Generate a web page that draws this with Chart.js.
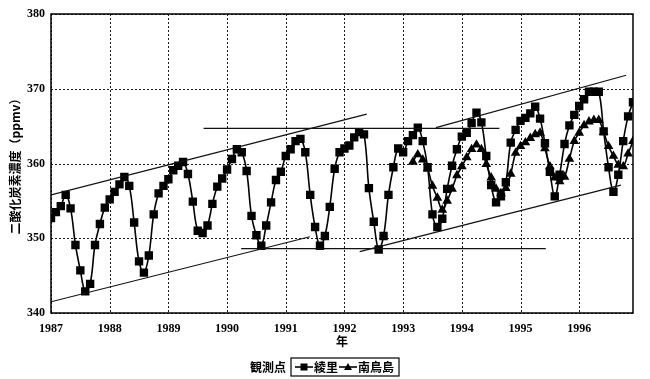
<!DOCTYPE html>
<html>
<head>
<meta charset="utf-8">
<script src="https://cdn.jsdelivr.net/npm/chart.js@4.4.0/dist/chart.umd.min.js"></script>
<style>
  html, body { margin: 0; padding: 0; background: #fff; }
</style>
</head>
<body>
<canvas id="co2" width="650" height="379"></canvas>
<script>
// Monthly CO2 concentration (ppmv), Ryori, Jan 1987 - Dec 1996
var ryori = [
  352.7, 353.5, 354.3, 355.8, 354.0, 349.1, 345.7, 342.9, 343.9, 349.1, 351.9, 354.1, // 1987
  355.2, 356.2, 357.2, 358.2, 357.0, 352.1, 346.9, 345.4, 347.7, 353.2, 356.0, 357.0, // 1988
  357.9, 359.1, 359.7, 360.2, 358.6, 354.9, 351.0, 350.7, 351.7, 354.6, 356.9, 358.0, // 1989
  359.2, 360.6, 361.9, 361.5, 359.0, 353.0, 350.4, 349.0, 351.7, 354.8, 357.8, 358.9, // 1990
  361.0, 361.9, 363.0, 363.3, 361.5, 355.8, 351.5, 349.0, 350.3, 354.2, 359.3, 361.5, // 1991
  362.0, 362.4, 363.5, 364.2, 363.9, 356.7, 352.2, 348.5, 350.3, 355.8, 359.5, 362.0, // 1992
  361.5, 363.0, 363.8, 364.8, 363.0, 359.5, 353.2, 351.5, 352.6, 356.6, 359.7, 361.9, // 1993
  363.6, 364.1, 365.4, 366.8, 365.5, 361.0, 357.1, 354.8, 355.6, 357.5, 362.8, 364.5, // 1994
  365.7, 366.1, 366.7, 367.6, 366.0, 362.7, 358.9, 355.6, 358.5, 362.6, 365.1, 366.5, // 1995
  367.7, 368.6, 369.6, 369.6, 369.6, 364.3, 359.5, 356.2, 358.5, 363.0, 366.3, 368.2  // 1996
];
var ryoriStart = 1987;

// Minamitorishima, from Mar 1993
var minami = [
                360.2, 361.2, 360.5, 359.3, 357.0, 355.4, 353.8, 355.0, 356.6, 358.4, // 1993
  359.6, 360.8, 361.9, 362.5, 361.9, 359.9, 358.1, 356.6, 356.0, 356.7, 358.6, 361.4, // 1994
  362.3, 362.8, 363.4, 363.9, 364.1, 362.0, 359.6, 358.1, 357.6, 358.2, 360.6, 363.0, // 1995
  364.1, 365.1, 365.6, 365.8, 365.8, 364.2, 362.3, 361.0, 359.8, 359.6, 361.3, 363.0  // 1996
];
var minamiStart = 1993 + 2 / 12;

var stationNames = ['綾里', '南鳥島'];
var yearTicks = [1987, 1988, 1989, 1990, 1991, 1992, 1993, 1994, 1995, 1996];
var ppmTicks = [340, 350, 360, 370, 380];

// hand-drawn envelope lines, [year, ppmv] pairs
var guideLines = [
  [[1987.00, 355.8], [1992.38, 366.6]],
  [[1987.00, 341.5], [1991.41, 350.2]],
  [[1989.60, 364.7], [1994.64, 364.7]],
  [[1990.24, 348.6], [1995.43, 348.6]],
  [[1993.56, 364.8], [1996.80, 371.8]],
  [[1992.26, 348.2], [1996.71, 357.1]]
];

function monthly(values, start) {
  return values.map(function (v, i) { return { x: start + i / 12, y: v }; });
}

var tickFont = { family: "'Liberation Serif', serif", size: 12, weight: 'bold' };
var jpFont = "'Noto Sans CJK JP', 'Noto Sans', sans-serif";

var datasets = guideLines.map(function (seg) {
  return {
    label: '',
    data: seg.map(function (p) { return { x: p[0], y: p[1] }; }),
    borderColor: '#111',
    borderWidth: 1.2,
    pointRadius: 0,
    tension: 0
  };
});

datasets.push({
  label: stationNames[0],
  data: monthly(ryori, ryoriStart),
  borderColor: '#000',
  backgroundColor: '#000',
  borderWidth: 1.6,
  pointStyle: 'rect',
  pointRadius: 4.8,
  tension: 0.4
});
datasets.push({
  label: stationNames[1],
  data: monthly(minami, minamiStart),
  borderColor: '#000',
  backgroundColor: '#000',
  borderWidth: 1.6,
  pointStyle: 'triangle',
  pointRadius: 4,
  tension: 0.4
});

// dotted grid at the year / ppm ticks (drawn as small dashes)
var dottedGrid = {
  id: 'dottedGrid',
  beforeDatasetsDraw: function (chart) {
    var a = chart.chartArea, ctx = chart.ctx;
    var xs = chart.scales.x, ys = chart.scales.y;
    var dash = 2, step = 4;
    ctx.save();
    ctx.fillStyle = '#1a1a1a';
    yearTicks.forEach(function (v) {
      var px = Math.round(xs.getPixelForValue(v));
      for (var y = a.top; y < a.bottom; y += step) {
        ctx.fillRect(px, y, 1, Math.min(dash, a.bottom - y));
      }
    });
    ppmTicks.forEach(function (v) {
      var py = Math.round(ys.getPixelForValue(v));
      for (var x = a.left; x < a.right; x += step) {
        ctx.fillRect(x, py, Math.min(dash, a.right - x), 1);
      }
    });
    ctx.restore();
  }
};

// frame around plot area
var frame = {
  id: 'frame',
  afterDraw: function (chart) {
    var a = chart.chartArea, ctx = chart.ctx;
    ctx.save();
    ctx.strokeStyle = '#000';
    ctx.lineWidth = 1.5;
    ctx.strokeRect(a.left, a.top, a.right - a.left, a.bottom - a.top);
    ctx.restore();
  }
};

// legend: 観測点 [ -■- 綾里 -▲- 南鳥島 ]
var stationLegend = {
  id: 'stationLegend',
  afterDraw: function (chart) {
    var ctx = chart.ctx;
    var cy = 367;
    ctx.save();
    ctx.font = 'bold 12px ' + jpFont;
    ctx.fillStyle = '#000';
    ctx.strokeStyle = '#000';
    ctx.textBaseline = 'middle';
    ctx.fillText('観測点', 250, cy);

    var x = 291;
    var boxLeft = x;
    x += 4;
    var styles = ['rect', 'triangle'];
    stationNames.forEach(function (name, i) {
      ctx.lineWidth = 1.6;
      ctx.beginPath();
      ctx.moveTo(x, cy);
      ctx.lineTo(x + 18, cy);
      ctx.stroke();
      var mx = x + 9;
      ctx.beginPath();
      if (styles[i] === 'rect') {
        ctx.rect(mx - 3.5, cy - 3.5, 7, 7);
      } else {
        ctx.moveTo(mx, cy - 4);
        ctx.lineTo(mx + 4, cy + 3);
        ctx.lineTo(mx - 4, cy + 3);
        ctx.closePath();
      }
      ctx.fill();
      x += 19;
      ctx.fillText(name, x, cy);
      x += ctx.measureText(name).width + 1;
    });
    ctx.lineWidth = 1.2;
    ctx.strokeRect(boxLeft, cy - 9, x + 4 - boxLeft, 18);
    ctx.restore();
  }
};

new Chart(document.getElementById('co2'), {
  type: 'line',
  data: { datasets: datasets },
  options: {
    responsive: false,
    animation: false,
    layout: { padding: { top: 14, right: 17, bottom: 30, left: 0 } },
    plugins: {
      legend: { display: false },
      tooltip: { enabled: false }
    },
    scales: {
      x: {
        type: 'linear',
        min: 1987,
        max: 1996 + 11 / 12,
        afterBuildTicks: function (s) { s.ticks = yearTicks.map(function (v) { return { value: v }; }); },
        afterFit: function (s) { s.height = 36; },
        ticks: {
          color: '#000',
          font: tickFont,
          padding: 9,
          maxRotation: 0,
          callback: function (v) { return String(v); }
        },
        grid: { display: false, drawTicks: false },
        border: { display: false },
        title: {
          display: true,
          text: '年',
          color: '#000',
          font: { family: jpFont, size: 12, weight: 'bold' },
          padding: { top: 0, bottom: 0 }
        }
      },
      y: {
        min: 340,
        max: 380,
        afterBuildTicks: function (s) { s.ticks = ppmTicks.map(function (v) { return { value: v }; }); },
        afterFit: function (s) { s.width = 51; },
        ticks: {
          color: '#000',
          font: tickFont,
          padding: 6
        },
        grid: { display: false, drawTicks: false },
        border: { display: false },
        title: {
          display: true,
          text: '二酸化炭素濃度（ppmv）',
          color: '#000',
          font: { family: jpFont, size: 12, weight: 'bold' },
          padding: { top: 8, bottom: 0 }
        }
      }
    }
  },
  plugins: [dottedGrid, frame, stationLegend]
});
</script>
</body>
</html>
